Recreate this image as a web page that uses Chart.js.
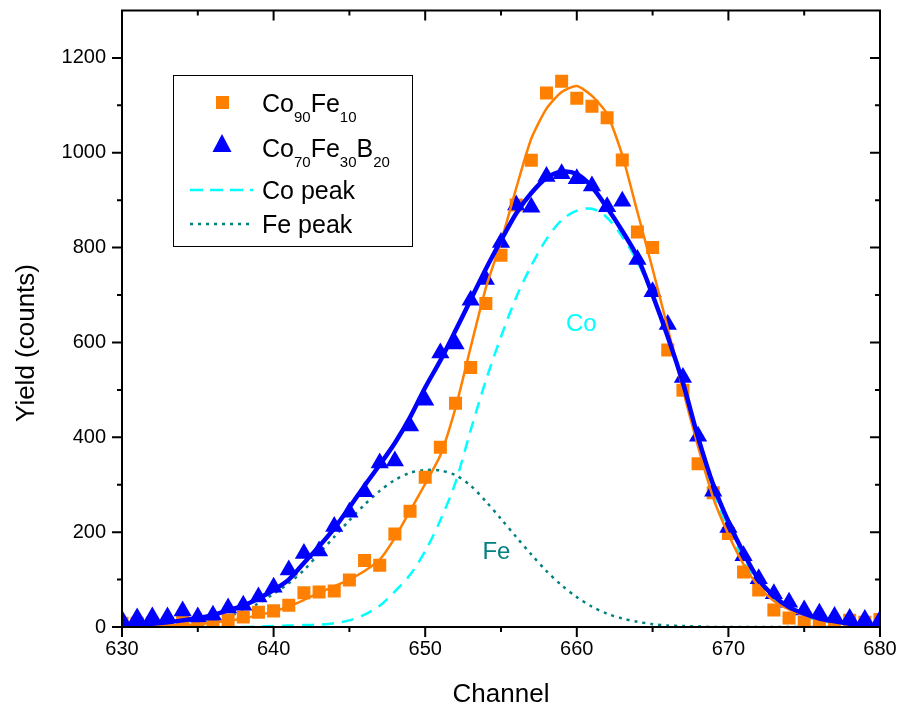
<!DOCTYPE html>
<html>
<head>
<meta charset="utf-8">
<script src="https://cdn.jsdelivr.net/npm/chart.js@4.4.0/dist/chart.umd.min.js"></script>
<style>
html,body{margin:0;padding:0;background:#fff;}
canvas{display:block;}
</style>
</head>
<body>
<canvas id="c" width="902" height="713"></canvas>
<script>
// ---- Data ----
const channels = [630,631,632,633,634,635,636,637,638,639,640,641,642,643,644,645,646,647,648,649,650,651,652,653,654,655,656,657,658,659,660,661,662,663,664,665,666,667,668,669,670,671,672,673,674,675,676,677,678,679,680];

// Co90Fe10 measured (squares)
const coFeData = [8,8,8,8,10,8,10,15,21,31,34,46,72,74,76,99,140,130,196,244,316,379,472,547,682,784,890,984,1126,1151,1115,1098,1074,985,833,800,584,499,344,283,197,116,78,36,19,10,7,6,14,10,16];
// Co70Fe30B20 measured (triangles)
const coFeBData = [15,19,21,21,34,21,25,40,46,63,84,120,155,160,212,242,285,346,350,424,478,578,597,689,733,811,890,885,950,956,945,930,886,898,775,707,638,526,402,286,210,150,102,70,52,36,29,22,18,16,15];
// Fit curves
const coFeFit = [1,1,2,3,4,6,9,13,18,25,33,43,57,72,86,100,118,142,188,245,302,362,462,590,715,812,925,1030,1093,1128,1141,1120,1082,995,875,755,630,500,380,272,195,132,85,55,37,25,16,10,6,4,3];
const coFeBFit = [4,5,7,10,14,19,25,35,45,60,78,100,135,170,208,252,298,342,388,442,505,562,625,690,755,815,872,915,947,960,955,928,884,835,780,700,612,515,400,300,222,156,100,65,42,28,18,12,7,4,3];
const coPeak = [0,0,0,0,0,0,0,0,0,1,2,3,4,5,8,14,26,45,75,110,160,225,305,415,520,612,695,762,818,858,878,882,863,823,770,698,615,512,395,288,206,142,93,60,38,23,14,8,4,2,1];
const fePeak = [0,0,1,3,5,8,14,22,34,50,70,92,120,155,190,225,258,287,310,325,331,330,320,298,265,228,190,153,118,88,63,43,28,18,11,6,3,2,1,0,0,0,0,0,0,0,0,0,0,0,0];

const xTicks = [630,640,650,660,670,680];
const xMinorTicks = [635,645,655,665,675];
const yTicks = [0,200,400,600,800,1000,1200];
const yMinorTicks = [100,300,500,700,900,1100];

const FONT = "'Liberation Sans', Arial, Helvetica, sans-serif";
const ORANGE = '#FF8000';
const BLUE = '#0000FF';
const CYAN = '#00FFFF';
const TEAL = '#008080';

const pts = arr => channels.map((c,i)=>({x:c, y:arr[i]}));

// ---- custom frame, ticks, titles, legend, annotations ----
const decorPlugin = {
  id: 'decor',
  afterDraw(chart) {
    const ctx = chart.ctx;
    const a = chart.chartArea;
    const xs = chart.scales.x, ys = chart.scales.y;
    ctx.save();
    ctx.strokeStyle = '#000';
    ctx.lineWidth = 2;
    ctx.strokeRect(a.left, a.top, a.right - a.left, a.bottom - a.top);
    ctx.lineWidth = 2;
    const major = 10, minor = 5;
    ctx.beginPath();
    xTicks.forEach(v => { const p = xs.getPixelForValue(v);
      ctx.moveTo(p, a.bottom); ctx.lineTo(p, a.bottom + major);
      ctx.moveTo(p, a.top); ctx.lineTo(p, a.top + major); });
    xMinorTicks.forEach(v => { const p = xs.getPixelForValue(v);
      ctx.moveTo(p, a.bottom); ctx.lineTo(p, a.bottom + minor);
      ctx.moveTo(p, a.top); ctx.lineTo(p, a.top + minor); });
    yTicks.forEach(v => { const p = ys.getPixelForValue(v);
      ctx.moveTo(a.left, p); ctx.lineTo(a.left - major, p);
      ctx.moveTo(a.right, p); ctx.lineTo(a.right - major, p); });
    yMinorTicks.forEach(v => { const p = ys.getPixelForValue(v);
      ctx.moveTo(a.left, p); ctx.lineTo(a.left - minor, p);
      ctx.moveTo(a.right, p); ctx.lineTo(a.right - minor, p); });
    ctx.stroke();

    // axis titles
    ctx.fillStyle = '#000';
    ctx.font = '26px ' + FONT;
    ctx.textAlign = 'center';
    ctx.textBaseline = 'alphabetic';
    ctx.fillText('Channel', (a.left + a.right) / 2, 702);
    ctx.save();
    ctx.translate(34, 343);
    ctx.rotate(-Math.PI / 2);
    ctx.fillText('Yield (counts)', 0, 0);
    ctx.restore();

    // annotations
    ctx.font = '24px ' + FONT;
    ctx.textBaseline = 'middle';
    ctx.fillStyle = CYAN;
    ctx.fillText('Co', xs.getPixelForValue(660.3), ys.getPixelForValue(638));
    ctx.fillStyle = TEAL;
    ctx.fillText('Fe', xs.getPixelForValue(654.7), ys.getPixelForValue(158));

    // legend
    ctx.lineWidth = 1;
    ctx.strokeStyle = '#000';
    ctx.strokeRect(173.5, 75.5, 239, 171);
    const drawRich = (parts, x, y) => {
      ctx.textAlign = 'left';
      ctx.textBaseline = 'alphabetic';
      ctx.fillStyle = '#000';
      let cx = x;
      parts.forEach(([t, sub]) => {
        ctx.font = (sub ? '15px ' : '25px ') + FONT;
        ctx.fillText(t, cx, sub ? y + 10 : y);
        cx += ctx.measureText(t).width;
      });
    };
    // square
    ctx.fillStyle = ORANGE;
    ctx.fillRect(216, 96, 13, 13);
    drawRich([['Co',0],['90',1],['Fe',0],['10',1]], 262, 112);
    // triangle
    ctx.fillStyle = BLUE;
    ctx.beginPath();
    ctx.moveTo(222, 134); ctx.lineTo(231.5, 152); ctx.lineTo(212.5, 152); ctx.closePath();
    ctx.fill();
    drawRich([['Co',0],['70',1],['Fe',0],['30',1],['B',0],['20',1]], 262, 157);
    // dashed
    ctx.strokeStyle = CYAN; ctx.lineWidth = 2.5;
    ctx.setLineDash([13, 7]);
    ctx.beginPath(); ctx.moveTo(190, 190); ctx.lineTo(253, 190); ctx.stroke();
    drawRich([['Co peak',0]], 262, 199);
    ctx.strokeStyle = TEAL;
    ctx.setLineDash([3, 5]);
    ctx.beginPath(); ctx.moveTo(190, 224); ctx.lineTo(253, 224); ctx.stroke();
    ctx.setLineDash([]);
    drawRich([['Fe peak',0]], 262, 233);
    ctx.restore();
  }
};

new Chart(document.getElementById('c'), {
  type: 'scatter',
  data: {
    datasets: [
      { label: 'Co70Fe30B20 fit', data: pts(coFeBFit), showLine: true, borderColor: BLUE, borderWidth: 4.5, pointRadius: 0, fill: false, tension: 0.3, order: 0 },
      { label: 'Co90Fe10 fit', data: pts(coFeFit), showLine: true, borderColor: ORANGE, borderWidth: 2.5, pointRadius: 0, fill: false, tension: 0.2, order: 1 },
      { label: 'Co70Fe30B20', data: pts(coFeBData), showLine: false, pointStyle: 'triangle', pointRadius: 10.5, backgroundColor: BLUE, borderColor: BLUE, borderWidth: 0, order: 2 },
      { label: 'Co90Fe10', data: pts(coFeData), showLine: false, pointStyle: 'rect', pointRadius: 9.2, backgroundColor: ORANGE, borderColor: ORANGE, borderWidth: 0, order: 3 },
      { label: 'Co peak', data: pts(coPeak), showLine: true, borderColor: CYAN, borderWidth: 2.5, borderDash: [12, 8], pointRadius: 0, fill: false, tension: 0.3, order: 4 },
      { label: 'Fe peak', data: pts(fePeak), showLine: true, borderColor: TEAL, borderWidth: 2.5, borderDash: [3, 5], pointRadius: 0, fill: false, tension: 0.3, order: 5 }
    ]
  },
  options: {
    responsive: false,
    animation: false,
    devicePixelRatio: 1,
    layout: { padding: { left: 0, right: 22, top: 10, bottom: 0 } },
    plugins: { legend: { display: false }, tooltip: { enabled: false } },
    scales: {
      x: {
        type: 'linear', min: 630, max: 680,
        afterBuildTicks: s => { s.ticks = xTicks.map(v => ({ value: v })); },
        afterFit: s => { s.height = 86; s.paddingLeft = 0; s.paddingRight = 0; s.paddingTop = 0; s.paddingBottom = 0; },
        grid: { display: false, drawTicks: false },
        border: { display: false },
        ticks: { color: '#000', font: { family: FONT, size: 20 }, padding: 10, maxRotation: 0, autoSkip: false, callback: v => String(v) }
      },
      y: {
        type: 'linear', min: 0, max: 1300,
        afterBuildTicks: s => { s.ticks = yTicks.map(v => ({ value: v })); },
        afterFit: s => { s.width = 122; s.paddingLeft = 0; s.paddingRight = 0; s.paddingTop = 0; s.paddingBottom = 0; },
        grid: { display: false, drawTicks: false },
        border: { display: false },
        ticks: { color: '#000', font: { family: FONT, size: 20 }, padding: 16, autoSkip: false, callback: v => String(v) }
      }
    }
  },
  plugins: [decorPlugin]
});
</script>
</body>
</html>
